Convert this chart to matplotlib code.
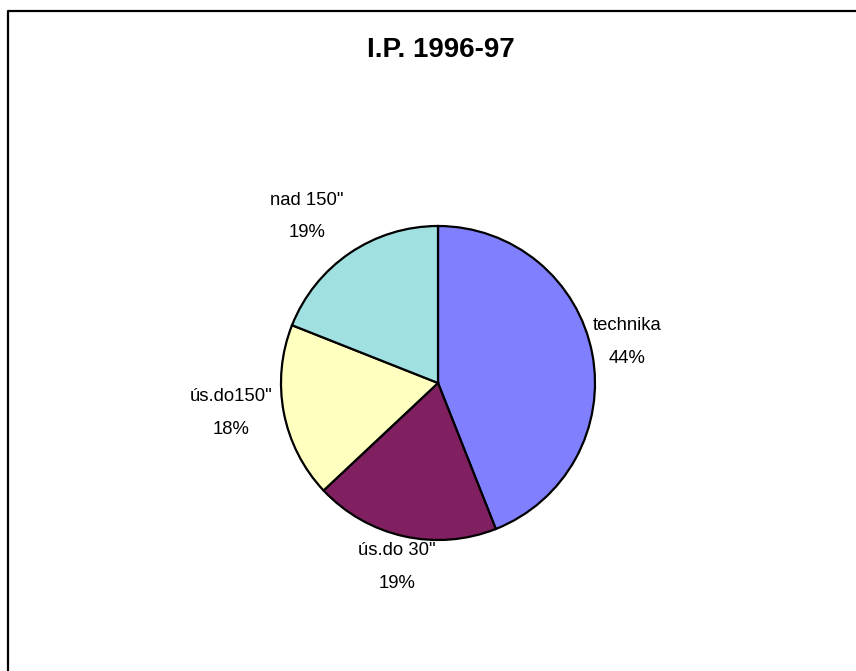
import numpy as np
import matplotlib
matplotlib.use("Agg")
import matplotlib.pyplot as plt
from matplotlib.lines import Line2D

# ---- data ----
title = "I.P. 1996-97"
categories = ["technika", "ús.do 30\"", "ús.do150\"", "nad 150\""]
values = [44, 19, 18, 19]
colors = ["#8080FF", "#802060", "#FFFFC0", "#A0E0E0"]
label_dist = [1.23, 1.20, 1.33, 1.35]
label_rot = [1.5, 0, -2.5, 4.0]   # small angular offsets (deg) of the label placement

W, H = 856, 671
cx, cy, R = 438, 383, 157   # pie centre and radius in pixels

fig = plt.figure(figsize=(W / 100, H / 100), dpi=100)
ax = fig.add_axes([0, 0, 1, 1])

wedges, _ = ax.pie(values, colors=colors, startangle=90, counterclock=False,
                   wedgeprops=dict(edgecolor="black", linewidth=1.6),
                   radius=1.0)

ax.set_aspect("auto")
ax.set_xlim(-cx / R, (W - cx) / R)
ax.set_ylim(-(H - cy) / R, cy / R)
ax.axis("off")

label_font = ["Liberation Sans", "DejaVu Sans"]
total = sum(values)
for w, cat, v, d, dr in zip(wedges, categories, values, label_dist, label_rot):
    mid = np.deg2rad((w.theta1 + w.theta2) / 2 + dr)
    x, y = d * np.cos(mid), d * np.sin(mid)
    pct = round(100 * v / total)
    ax.text(x, y, f"{cat}\n{pct}%", ha="center", va="center",
            fontsize=13.3, family=label_font, linespacing=2.2, color="black")

fig.text(441 / W, 1 - 57 / H, title, ha="center", va="baseline",
         fontsize=20, fontweight="bold", family=["Liberation Sans", "DejaVu Sans"])

# chart frame (left and top edges visible)
fig.add_artist(Line2D([8 / W, 8 / W, 1.0], [0.0, 1 - 10.5 / H, 1 - 10.5 / H],
                      transform=fig.transFigure, color="black", linewidth=1.6))

fig.savefig("out.png", dpi=100)
